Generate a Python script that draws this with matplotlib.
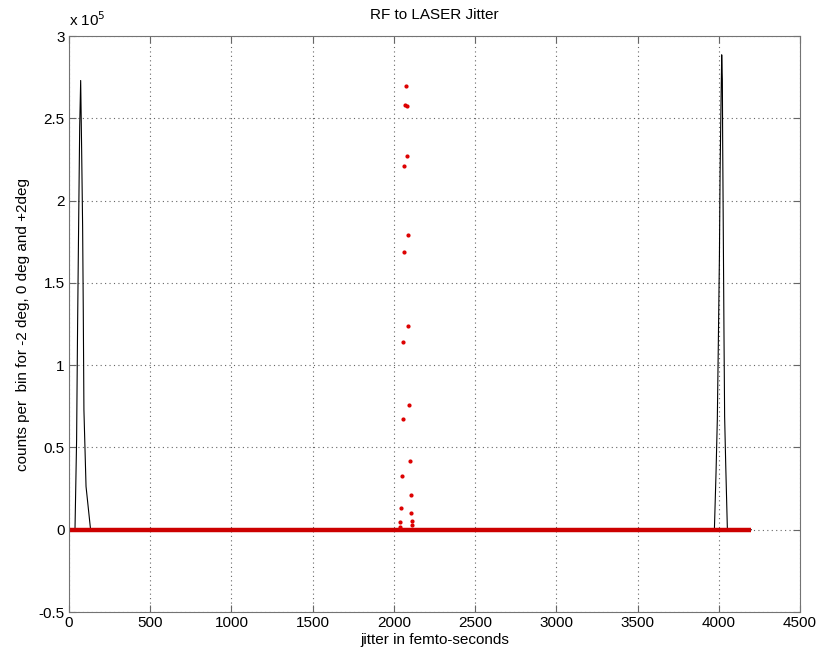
import numpy as np
import matplotlib
matplotlib.use("Agg")
import matplotlib.pyplot as plt
from matplotlib.ticker import FuncFormatter

plt.rcParams['font.family'] = ['Liberation Sans', 'DejaVu Sans']

# -2 deg histogram (black line)
minus2_x = [0, 37, 47, 53, 60, 66, 72, 78, 84, 88, 92, 105, 133, 2000]
minus2_y = [0, 0, 0.547e5, 1.235e5, 1.904e5, 2.45e5, 2.73e5, 2.309e5, 1.843e5,
            1.337e5, 0.729e5, 0.263e5, 0, 0]

# +2 deg histogram (black line)
plus2_x = [2000, 3973, 3983, 3991, 3997, 4004, 4008, 4014, 4018, 4022, 4024,
           4028, 4032, 4036, 4043, 4053, 4200]
plus2_y = [0, 0, 0.344e5, 0.668e5, 1.114e5, 1.661e5, 2.167e5, 2.612e5, 2.886e5,
           2.734e5, 2.349e5, 1.782e5, 1.195e5, 0.688e5, 0.385e5, 0, 0]

# 0 deg histogram (red dots): zero-count bins and the non-zero bins
zero_base_x = [0, 4200]
zero_base_y = [0, 0]
zero_x = [2036, 2040, 2046, 2050, 2054, 2054, 2060, 2064, 2068, 2075,
          2079, 2079, 2085, 2089, 2093, 2099, 2103, 2107, 2109, 2113]
zero_y = [0.014e5, 0.045e5, 0.13e5, 0.326e5, 0.67e5, 1.14e5, 1.685e5, 2.213e5,
          2.582e5, 2.697e5, 2.572e5, 2.272e5, 1.788e5, 1.235e5, 0.759e5,
          0.415e5, 0.213e5, 0.101e5, 0.055e5, 0.026e5]

fig = plt.figure(figsize=(8.31, 6.59), dpi=100)
ax = fig.add_axes([0.0830, 0.0713, 0.8797, 0.8740])

ax.plot(minus2_x, minus2_y, color='black', lw=0.8)
ax.plot(plus2_x, plus2_y, color='black', lw=0.8)
ax.plot(zero_base_x, zero_base_y, color='#cc0000', lw=3.2, solid_capstyle='butt')
ax.plot(zero_x, zero_y, linestyle='none', marker='.', color='#dd0000', markersize=4)

ax.set_xlim(0, 4500)
ax.set_ylim(-0.5e5, 3e5)
ax.set_xticks(np.arange(0, 4501, 500))
ax.set_yticks(np.arange(-0.5e5, 3.01e5, 0.5e5))
ax.yaxis.set_major_formatter(FuncFormatter(lambda v, p: f"{v / 1e5:g}"))

ax.grid(True, linestyle=(0, (1, 3)), color='0.4', lw=0.8)
ax.tick_params(direction='in', top=True, right=True, labelsize=11, length=5,
               color='0.4', pad=3)
for s in ax.spines.values():
    s.set_color('0.45')

ax.text(0.0, 1.012, r'x 10$^{5}$', transform=ax.transAxes, fontsize=11,
        ha='left', va='bottom')
ax.set_title('RF to LASER Jitter', fontsize=11, pad=12)
ax.set_xlabel('jitter in femto-seconds', fontsize=11, labelpad=2)
ax.set_ylabel('counts per  bin for -2 deg, 0 deg and +2deg', fontsize=11, labelpad=6)

fig.savefig('out.png', dpi=100)
